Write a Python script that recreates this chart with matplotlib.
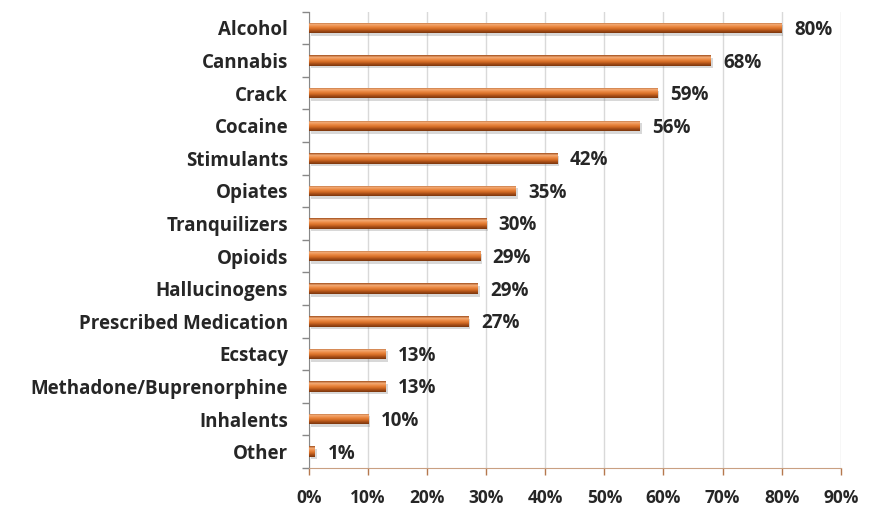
import numpy as np
import matplotlib.pyplot as plt
from matplotlib.colors import LinearSegmentedColormap

# data
categories = ['Alcohol', 'Cannabis', 'Crack', 'Cocaine', 'Stimulants', 'Opiates',
              'Tranquilizers', 'Opioids', 'Hallucinogens', 'Prescribed Medication',
              'Ecstacy', 'Methadone/Buprenorphine', 'Inhalents', 'Other']
values = [80, 68, 59, 56, 42, 35, 30, 29, 28.6, 27, 13, 13, 10, 1]
xticks = [0, 10, 20, 30, 40, 50, 60, 70, 80, 90]

plt.rcParams['font.family'] = ['Open Sans', 'DejaVu Sans']
plt.rcParams['font.weight'] = 'bold'

fig = plt.figure(figsize=(8.73, 5.07), dpi=100)
ax = fig.add_axes([0.354, 0.077, 0.609, 0.9])

y = np.arange(len(categories))
h = 0.32

# vertical gradient for the bars (top -> bottom)
grad_cmap = LinearSegmentedColormap.from_list(
    'barg', ['#a04e1c', '#f5ad78', '#ec8a44', '#d86f27', '#a84e17', '#7a360c'])
grad = np.linspace(0, 1, 64).reshape(-1, 1)

# shadow
ax.barh(y + 0.08, values, height=h, left=0.3, color='#7f7f7f', alpha=0.3, zorder=2,
        linewidth=0)
bars = ax.barh(y, values, height=h, color='#d06a26', zorder=3, linewidth=0)
for b, yi, v in zip(bars, y, values):
    im = ax.imshow(grad, cmap=grad_cmap, aspect='auto', zorder=4,
                   extent=[0, v, yi + h / 2, yi - h / 2], interpolation='bilinear')
    im.set_clip_path(b)

for yi, v in zip(y, values):
    ax.text(v + 2.1, yi + 0.06, f'{round(v)}%', va='center', ha='left',
            fontsize=13.5, fontweight='bold', color='#262626')

ax.set_xlim(0, 90)
ax.set_ylim(len(categories) - 0.5, -0.5)
ax.set_xticks(xticks)
ax.set_xticklabels([f'{t}%' for t in xticks])
ax.set_yticks(y)
ax.set_yticklabels(categories)
ax.set_yticks(np.arange(-0.5, len(categories), 1), minor=True)

ax.tick_params(axis='y', which='major', length=0, pad=15, labelsize=13.5, labelcolor='#262626')
ax.tick_params(axis='y', which='minor', length=5, color='#888888', width=1)
ax.tick_params(axis='x', length=5, color='#b5784e', width=1, pad=10, labelsize=12.5,
               labelcolor='#262626')

ax.grid(axis='x', color='#d9d9d9', linewidth=1, zorder=0)
ax.set_axisbelow(True)
for s in ['top', 'right']:
    ax.spines[s].set_visible(False)
ax.spines['left'].set_color('#888888')
ax.spines['bottom'].set_color('#c9a082')

plt.savefig('out.png', dpi=100)
